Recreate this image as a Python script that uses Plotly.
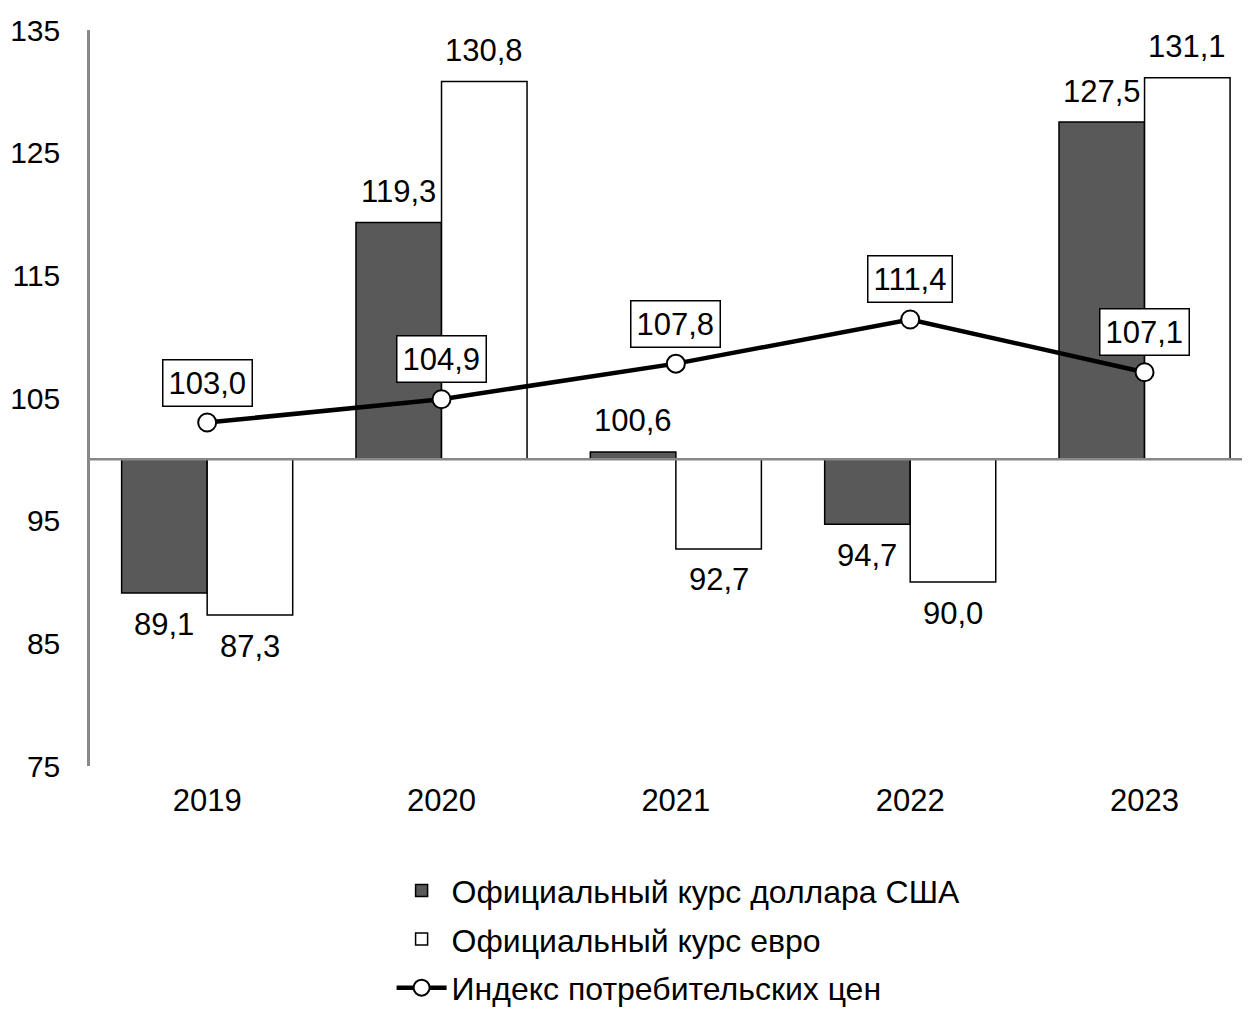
import plotly.graph_objects as go

years = ["2019", "2020", "2021", "2022", "2023"]
usd = [89.1, 119.3, 100.6, 94.7, 127.5]
eur = [87.3, 130.8, 92.7, 90.0, 131.1]
cpi = [103.0, 104.9, 107.8, 111.4, 107.1]
base = 100
y_ticks = [75, 85, 95, 105, 115, 125, 135]

name_usd = "Официальный курс доллара США"
name_eur = "Официальный курс евро"
name_cpi = "Индекс потребительских цен"

FONT = "Liberation Sans, Arial, sans-serif"
FS = 31
FS_LEG = 32
FS_Y = 30

def fmt(v):
    return f"{v:.1f}".replace(".", ",")

fig = go.Figure()
fig.add_trace(go.Bar(
    x=years, y=[v - base for v in usd], base=base, name=name_usd, legendgroup="a",
    marker=dict(color="#595959", line=dict(color="black", width=1.5)),
    hoverinfo="skip",
))
fig.add_trace(go.Bar(
    x=years, y=[v - base for v in eur], base=base, name=name_eur, legendgroup="b",
    marker=dict(color="white", line=dict(color="black", width=1.5)),
    hoverinfo="skip",
))
fig.add_trace(go.Scatter(
    x=years, y=cpi, name=name_cpi, mode="lines+markers", legendgroup="c",
    line=dict(color="black", width=4.5),
    marker=dict(symbol="circle", size=18, color="white", line=dict(color="black", width=2)),
    hoverinfo="skip",
))

annotations = []
half = 42.75
for i, (u, e, c) in enumerate(zip(usd, eur, cpi)):
    for v, sh in ((u, -half), (e, half)):
        annotations.append(dict(
            x=i, y=v, xref="x", yref="y", text=fmt(v), showarrow=False,
            xshift=sh, yshift=31 if v >= base else -31, yanchor="middle",
            font=dict(family=FONT, size=FS, color="black"),
        ))
    annotations.append(dict(
        x=i, y=c, xref="x", yref="y", text=fmt(c), showarrow=False,
        yshift=40, yanchor="middle",
        bgcolor="white", bordercolor="black", borderwidth=1.5, borderpad=5,
        font=dict(family=FONT, size=FS, color="black"),
    ))

fig.update_layout(
    width=1242, height=1001,
    margin=dict(l=82, r=0, t=22, b=243, autoexpand=False),
    paper_bgcolor="white", plot_bgcolor="white",
    barmode="group", bargap=0.27, bargroupgap=0,
    font=dict(family=FONT, size=FS, color="black"),
    annotations=annotations,
    showlegend=True,
    legend=dict(
        orientation="v", x=0.26, xanchor="left", y=-0.132, yanchor="top",
        font=dict(family=FONT, size=FS_LEG, color="black"),
        traceorder="grouped", itemwidth=50, tracegroupgap=4,
        bgcolor="rgba(0,0,0,0)",
    ),
    shapes=[dict(type="line", xref="paper", yref="y", x0=0, x1=1, y0=base, y1=base,
                 line=dict(color="#888888", width=2.5), layer="above")],
)
fig.update_xaxes(
    range=[-0.5, 4.45], showgrid=False, zeroline=False, showline=False,
    ticks="outside", ticklen=7, tickcolor="rgba(0,0,0,0)", automargin=False,
    tickfont=dict(family=FONT, size=FS, color="black"), fixedrange=True,
)
fig.update_yaxes(
    range=[75, 135], tickvals=y_ticks, ticktext=[str(t) for t in y_ticks],
    showgrid=False, zeroline=False, showline=True, linecolor="#888888", linewidth=2.5,
    ticks="outside", ticklen=21, tickcolor="rgba(0,0,0,0)", automargin=False,
    tickfont=dict(family=FONT, size=FS_Y, color="black"), fixedrange=True,
)

fig.write_html("out.html")
